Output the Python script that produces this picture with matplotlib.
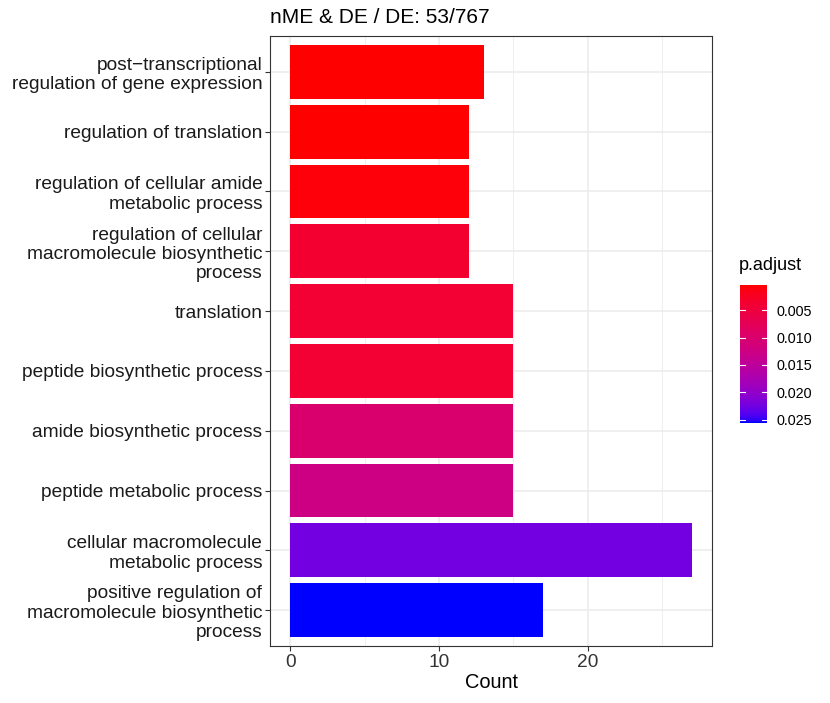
import numpy as np
import matplotlib
matplotlib.use("Agg")
import matplotlib.pyplot as plt
from matplotlib.colors import ListedColormap, Normalize

plt.rcParams['font.family'] = ['Liberation Sans', 'DejaVu Sans']

categories = [
    "post\u2212transcriptional\nregulation of gene expression",
    "regulation of translation",
    "regulation of cellular amide\nmetabolic process",
    "regulation of cellular\nmacromolecule biosynthetic\nprocess",
    "translation",
    "peptide biosynthetic process",
    "amide biosynthetic process",
    "peptide metabolic process",
    "cellular macromolecule\nmetabolic process",
    "positive regulation of\nmacromolecule biosynthetic\nprocess",
]
counts = [13, 12, 12, 12, 15, 15, 15, 15, 27, 17]
p_adjust = [0.0004, 0.0004, 0.0008, 0.0035, 0.0040, 0.0040, 0.0100, 0.0125, 0.0225, 0.0256]
x_ticks = [0, 10, 20]
cbar_ticks = [0.005, 0.010, 0.015, 0.020, 0.025]
cbar_ticklabels = ["0.005", "0.010", "0.015", "0.020", "0.025"]
title = "nME & DE / DE: 53/767"

# Lab-space gradient (like ggplot2 scale_fill_continuous(low='red', high='blue'))
def srgb_to_lab(rgb):
    rgb = np.asarray(rgb, float)
    lin = np.where(rgb <= 0.04045, rgb / 12.92, ((rgb + 0.055) / 1.055) ** 2.4)
    M = np.array([[0.4124, 0.3576, 0.1805], [0.2126, 0.7152, 0.0722], [0.0193, 0.1192, 0.9505]])
    xyz = M @ lin
    wp = np.array([0.95047, 1.0, 1.08883])
    t = xyz / wp
    f = np.where(t > (6 / 29) ** 3, np.cbrt(t), t / (3 * (6 / 29) ** 2) + 4 / 29)
    return np.array([116 * f[1] - 16, 500 * (f[0] - f[1]), 200 * (f[1] - f[2])])

def lab_to_srgb(lab):
    L, a, b = lab
    fy = (L + 16) / 116
    fx = fy + a / 500
    fz = fy - b / 200
    f = np.array([fx, fy, fz])
    t = np.where(f > 6 / 29, f ** 3, 3 * (6 / 29) ** 2 * (f - 4 / 29))
    xyz = t * np.array([0.95047, 1.0, 1.08883])
    Minv = np.array([[3.2406, -1.5372, -0.4986], [-0.9689, 1.8758, 0.0415], [0.0557, -0.2040, 1.0570]])
    lin = Minv @ xyz
    lin = np.clip(lin, 0, 1)
    rgb = np.where(lin <= 0.0031308, 12.92 * lin, 1.055 * lin ** (1 / 2.4) - 0.055)
    return np.clip(rgb, 0, 1)

lab_lo = srgb_to_lab([1, 0, 0])
lab_hi = srgb_to_lab([0, 0, 1])
cols = [lab_to_srgb(lab_lo + (lab_hi - lab_lo) * t) for t in np.linspace(0, 1, 256)]
cmap = ListedColormap(cols)
norm = Normalize(vmin=min(p_adjust), vmax=max(p_adjust))

fig = plt.figure(figsize=(8.30, 7.03), dpi=100)
W, H = 830, 703
ax = fig.add_axes([270 / W, (H - 646) / H, (712 - 270) / W, (646 - 36) / H])

n = len(categories)
ypos = np.arange(n)[::-1]  # first category at top
ax.barh(ypos, counts, height=0.9, color=cmap(norm(np.array(p_adjust))), zorder=3)

ax.set_ylim(-0.6, n - 0.4)
ax.set_xlim(-0.05 * 27, 27 * 1.05)
ax.set_yticks(ypos)
ax.set_yticklabels(categories, fontsize=13.8, linespacing=1.18, color='#1A1A1A')
ax.set_xticks(x_ticks)
ax.set_xticklabels([str(v) for v in x_ticks], fontsize=13.8, color='#333333')
ax.set_xticks([5, 15, 25], minor=True)
ax.grid(True, which='major', color='#EBEBEB', linewidth=1.1, zorder=0)
ax.grid(True, which='minor', axis='x', color='#EBEBEB', linewidth=0.55, zorder=0)
ax.tick_params(axis='both', which='major', length=3.5, width=0.8, color='#333333', pad=2)
ax.tick_params(axis='x', which='minor', length=0)
for s in ax.spines.values():
    s.set_color('#333333')
    s.set_linewidth(0.8)
ax.set_xlabel("Count", fontsize=14.4, labelpad=2, color='black')
ax.text(0, 1.0 + 9 / 610, title, transform=ax.transAxes, fontsize=15, ha='left', va='bottom')
ax.set_axisbelow(True)

# colorbar legend
cax = fig.add_axes([740 / W, (H - 423) / H, 27 / W, (423 - 285) / H])
grad = np.linspace(norm.vmin, norm.vmax, 300).reshape(-1, 1)
cax.imshow(grad, aspect='auto', cmap=cmap, norm=norm, origin='lower',
           extent=[0, 1, norm.vmin, norm.vmax])
cax.set_xlim(0, 1)
cax.set_ylim(norm.vmax, norm.vmin)
cax.set_xticks([])
cax.yaxis.tick_right()
cax.set_yticks(cbar_ticks)
cax.set_yticklabels(cbar_ticklabels, fontsize=10.4)
cax.tick_params(axis='y', length=0, pad=7)
for v in cbar_ticks:
    cax.plot([0, 0.2], [v, v], color='white', lw=0.8)
    cax.plot([0.8, 1], [v, v], color='white', lw=0.8)
for s in cax.spines.values():
    s.set_visible(False)
fig.text(739 / W, 1 - 266 / H, "p.adjust", fontsize=13, ha='left', va='center')

fig.savefig("out.png", dpi=100)
